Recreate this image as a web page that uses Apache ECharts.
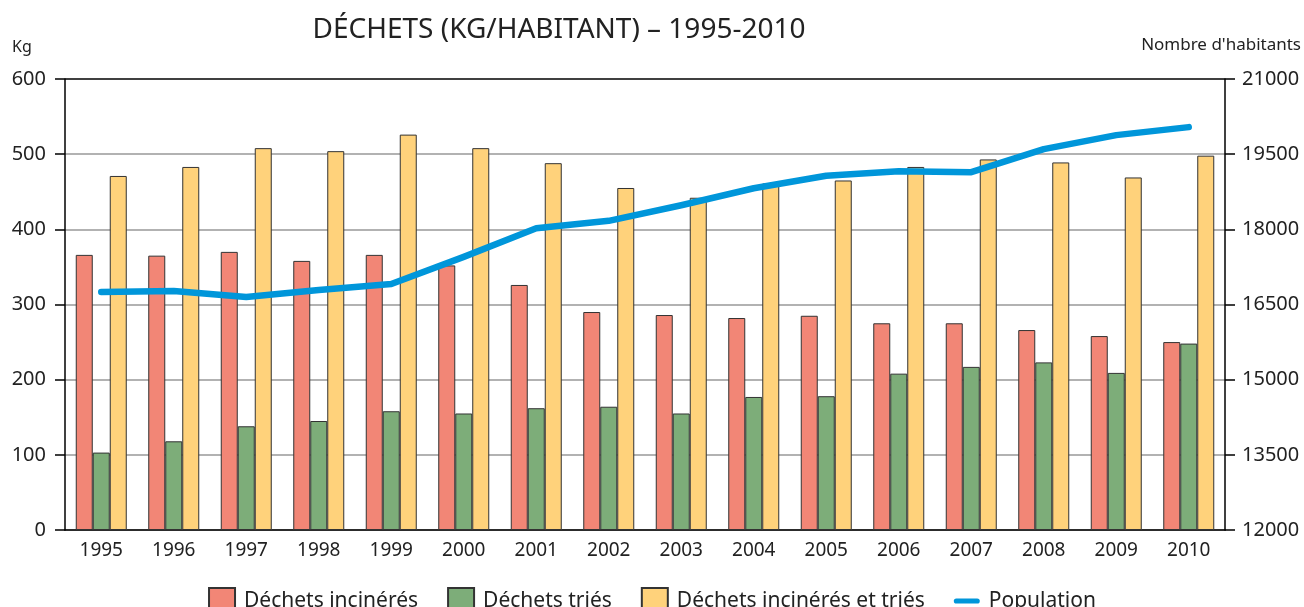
<!DOCTYPE html>
<html lang="fr">
<head>
<meta charset="UTF-8">
<title>Déchets (kg/habitant) 1995-2010</title>
<script src="https://cdn.jsdelivr.net/npm/echarts@6/dist/echarts.min.js"></script>
<style>
  html, body { margin: 0; padding: 0; background: #fff; }
  #main { width: 1304px; height: 607px; }
</style>
</head>
<body>
<div id="main"></div>
<script>
// years on the x axis
const years = ['1995', '1996', '1997', '1998', '1999', '2000', '2001', '2002',
  '2003', '2004', '2005', '2006', '2007', '2008', '2009', '2010'];

// kg per inhabitant
const incineres = [366, 365, 370, 358, 366, 352, 326, 290, 286, 282, 285, 275, 275, 266, 258, 250];
const tries = [103, 118, 138, 145, 158, 155, 162, 164, 155, 177, 178, 208, 217, 223, 209, 248];
const incineresEtTries = [471, 483, 508, 504, 526, 508, 488, 455, 442, 461, 465, 483, 493, 489, 469, 498];

// number of inhabitants (right axis)
const population = [16750, 16770, 16650, 16790, 16910, 17450, 18020, 18170,
  18480, 18820, 19070, 19160, 19140, 19600, 19880, 20040];

const font = '"Noto Sans", sans-serif';
const txt = '#222';

let chartDom = document.getElementById('main');
let myChart = echarts.init(chartDom);
let option;

option = {
  animation: false,
  textStyle: { fontFamily: font },
  title: {
    text: 'DÉCHETS (KG/HABITANT) – 1995-2010',
    left: 554,
    textAlign: 'center',
    top: 11,
    textStyle: { fontFamily: font, fontSize: 28, fontWeight: 'normal', color: txt }
  },
  graphic: [
    { type: 'text', left: 12, top: 39, style: { text: 'Kg', font: '16px ' + font, fill: txt } },
    { type: 'text', right: 3, top: 37, style: { text: "Nombre d'habitants", font: '17px ' + font, fill: txt } }
  ],
  legend: {
    top: 582,
    left: 'center',
    itemWidth: 26,
    itemHeight: 26,
    itemGap: 29,
    textStyle: { fontFamily: font, fontSize: 21, color: txt, padding: [0, 0, 0, 4] },
    data: [
      { name: 'Déchets incinérés', icon: 'rect' },
      { name: 'Déchets triés', icon: 'rect' },
      { name: 'Déchets incinérés et triés', icon: 'rect' },
      { name: 'Population', icon: 'path://M3,0H27A3,3 0 0 1 27,6H3A3,3 0 0 1 3,0Z' }
    ]
  },
  grid: { left: 65, right: 79, top: 79, bottom: 77 },
  xAxis: {
    type: 'category',
    data: years,
    axisLine: { lineStyle: { color: '#000', width: 1.5 } },
    axisTick: { show: false },
    axisLabel: { color: txt, fontSize: 19, margin: 11 }
  },
  yAxis: [
    {
      type: 'value',
      min: 0, max: 600, interval: 100,
      axisLine: { show: true, lineStyle: { color: '#000', width: 1.5 } },
      axisTick: { show: true, length: 10, lineStyle: { color: '#000', width: 1.5 } },
      axisLabel: { color: txt, fontSize: 20, margin: 19 },
      splitLine: { lineStyle: { color: ['#999', '#999', '#999', '#999', '#999', '#999', '#000'], width: 1.5 } }
    },
    {
      type: 'value',
      min: 12000, max: 21000, interval: 1500,
      axisLine: { show: true, lineStyle: { color: '#000', width: 1.5 } },
      axisTick: { show: true, length: 10, lineStyle: { color: '#000', width: 1.5 } },
      axisLabel: { color: txt, fontSize: 20, margin: 17, formatter: (v) => String(v) },
      splitLine: { show: false }
    }
  ],
  series: [
    {
      name: 'Déchets incinérés',
      type: 'bar',
      data: incineres,
      barWidth: 17,
      barGap: '0%',
      itemStyle: { color: '#F28676', borderColor: '#333', borderWidth: 1 }
    },
    {
      name: 'Déchets triés',
      type: 'bar',
      data: tries,
      barWidth: 17,
      barGap: '0%',
      itemStyle: { color: '#7DAD79', borderColor: '#333', borderWidth: 1 }
    },
    {
      name: 'Déchets incinérés et triés',
      type: 'bar',
      data: incineresEtTries,
      barWidth: 17,
      barGap: '0%',
      itemStyle: { color: '#FFD27B', borderColor: '#333', borderWidth: 1 }
    },
    {
      name: 'Population',
      type: 'line',
      yAxisIndex: 1,
      data: population,
      symbol: 'none',
      z: 5,
      itemStyle: { color: '#0096DA' },
      lineStyle: { color: '#0096DA', width: 6.5, cap: 'round', join: 'round' }
    }
  ]
};

option && myChart.setOption(option);
</script>
</body>
</html>
